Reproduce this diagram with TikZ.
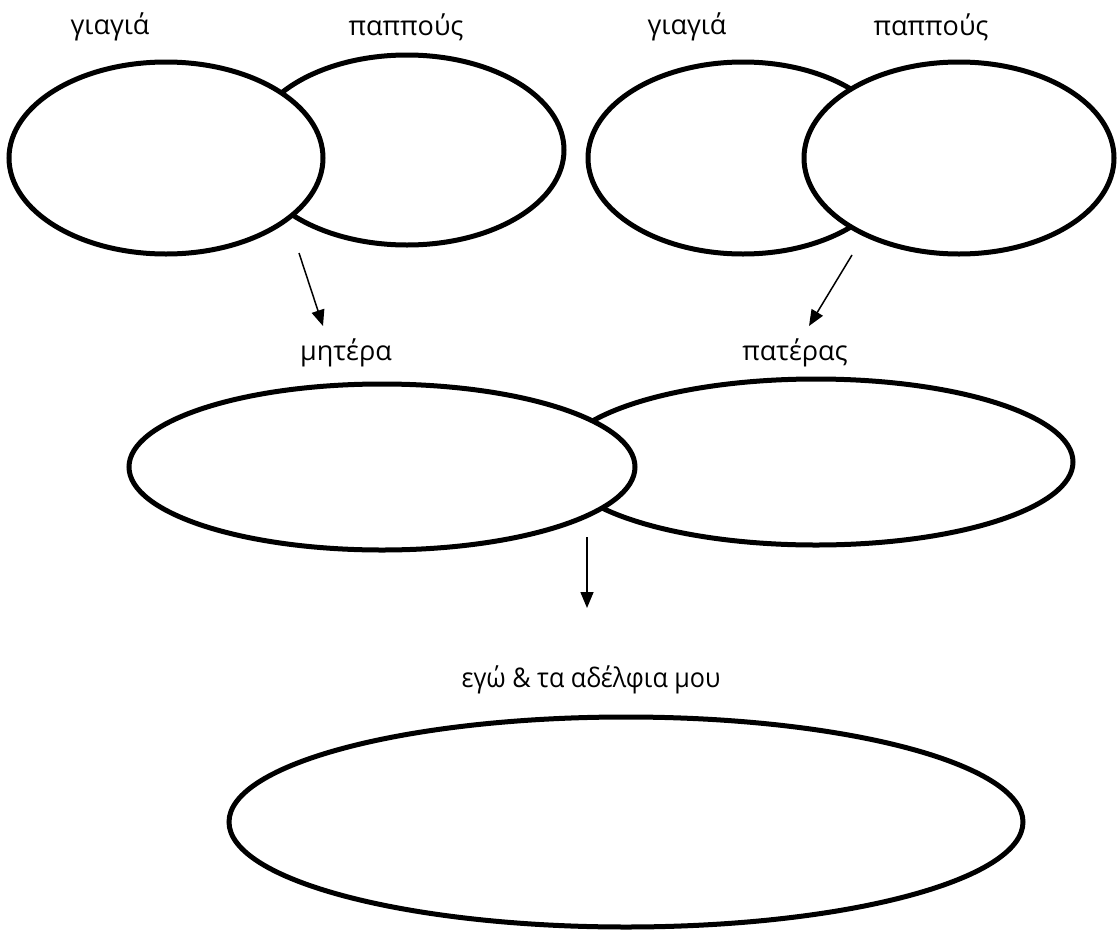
\documentclass[tikz,border=0pt]{standalone}
\usepackage{fontspec}
\setmainfont{Open Sans}
\usetikzlibrary{shapes.geometric,arrows.meta}
\tikzset{
  ell/.style={draw=black, line width=5pt, ellipse, inner sep=0pt, fill=white},
  lbl/.style={font=\fontsize{27}{32}\selectfont, inner sep=0pt, anchor=center},
  arr/.style={draw=black, line width=1.5pt, -{Triangle[length=16pt,width=13pt]}}
}
\begin{document}
\begin{tikzpicture}[x=1pt,y=-1pt]
\useasboundingbox (0,0) rectangle (1120,932);
% top-left pair
\node[ell, minimum width=314pt, minimum height=190pt] (pl) at (407,150) {};
\node[ell, minimum width=314pt, minimum height=192pt] (gl) at (166,158) {};
% top-right pair
\node[ell, minimum width=310pt, minimum height=192pt] (gr) at (743,158) {};
\node[ell, minimum width=310pt, minimum height=192pt] (pr) at (959,158) {};
% middle pair
\node[ell, minimum width=514pt, minimum height=166pt] (fa) at (816,462) {};
\node[ell, minimum width=506pt, minimum height=166pt] (mo) at (382,467) {};
% bottom
\node[ell, minimum width=794pt, minimum height=210pt] (me) at (626,822) {};
% labels
\node[lbl] (t1) at (110,27) {γιαγιά};
\node[lbl] (t2) at (406,27) {παππούς};
\node[lbl] (t3) at (687,27) {γιαγιά};
\node[lbl] (t4) at (931,27) {παππούς};
\node[lbl] (t5) at (346,353) {μητέρα};
\node[lbl] (t6) at (795,353) {πατέρας};
\node[lbl, xscale=0.93] (t7) at (591,680) {εγώ \& τα αδέλφια μου};
% arrows
\coordinate (a1s) at (299,253);
\coordinate (a1e) at (323,326);
\coordinate (a2s) at (852,255);
\coordinate (a2e) at (809,326);
\coordinate (a3s) at (587,537);
\coordinate (a3e) at (587,608);
\draw[arr] (a1s) -- (a1e);
\draw[arr] (a2s) -- (a2e);
\draw[arr] (a3s) -- (a3e);
\end{tikzpicture}
\end{document}
